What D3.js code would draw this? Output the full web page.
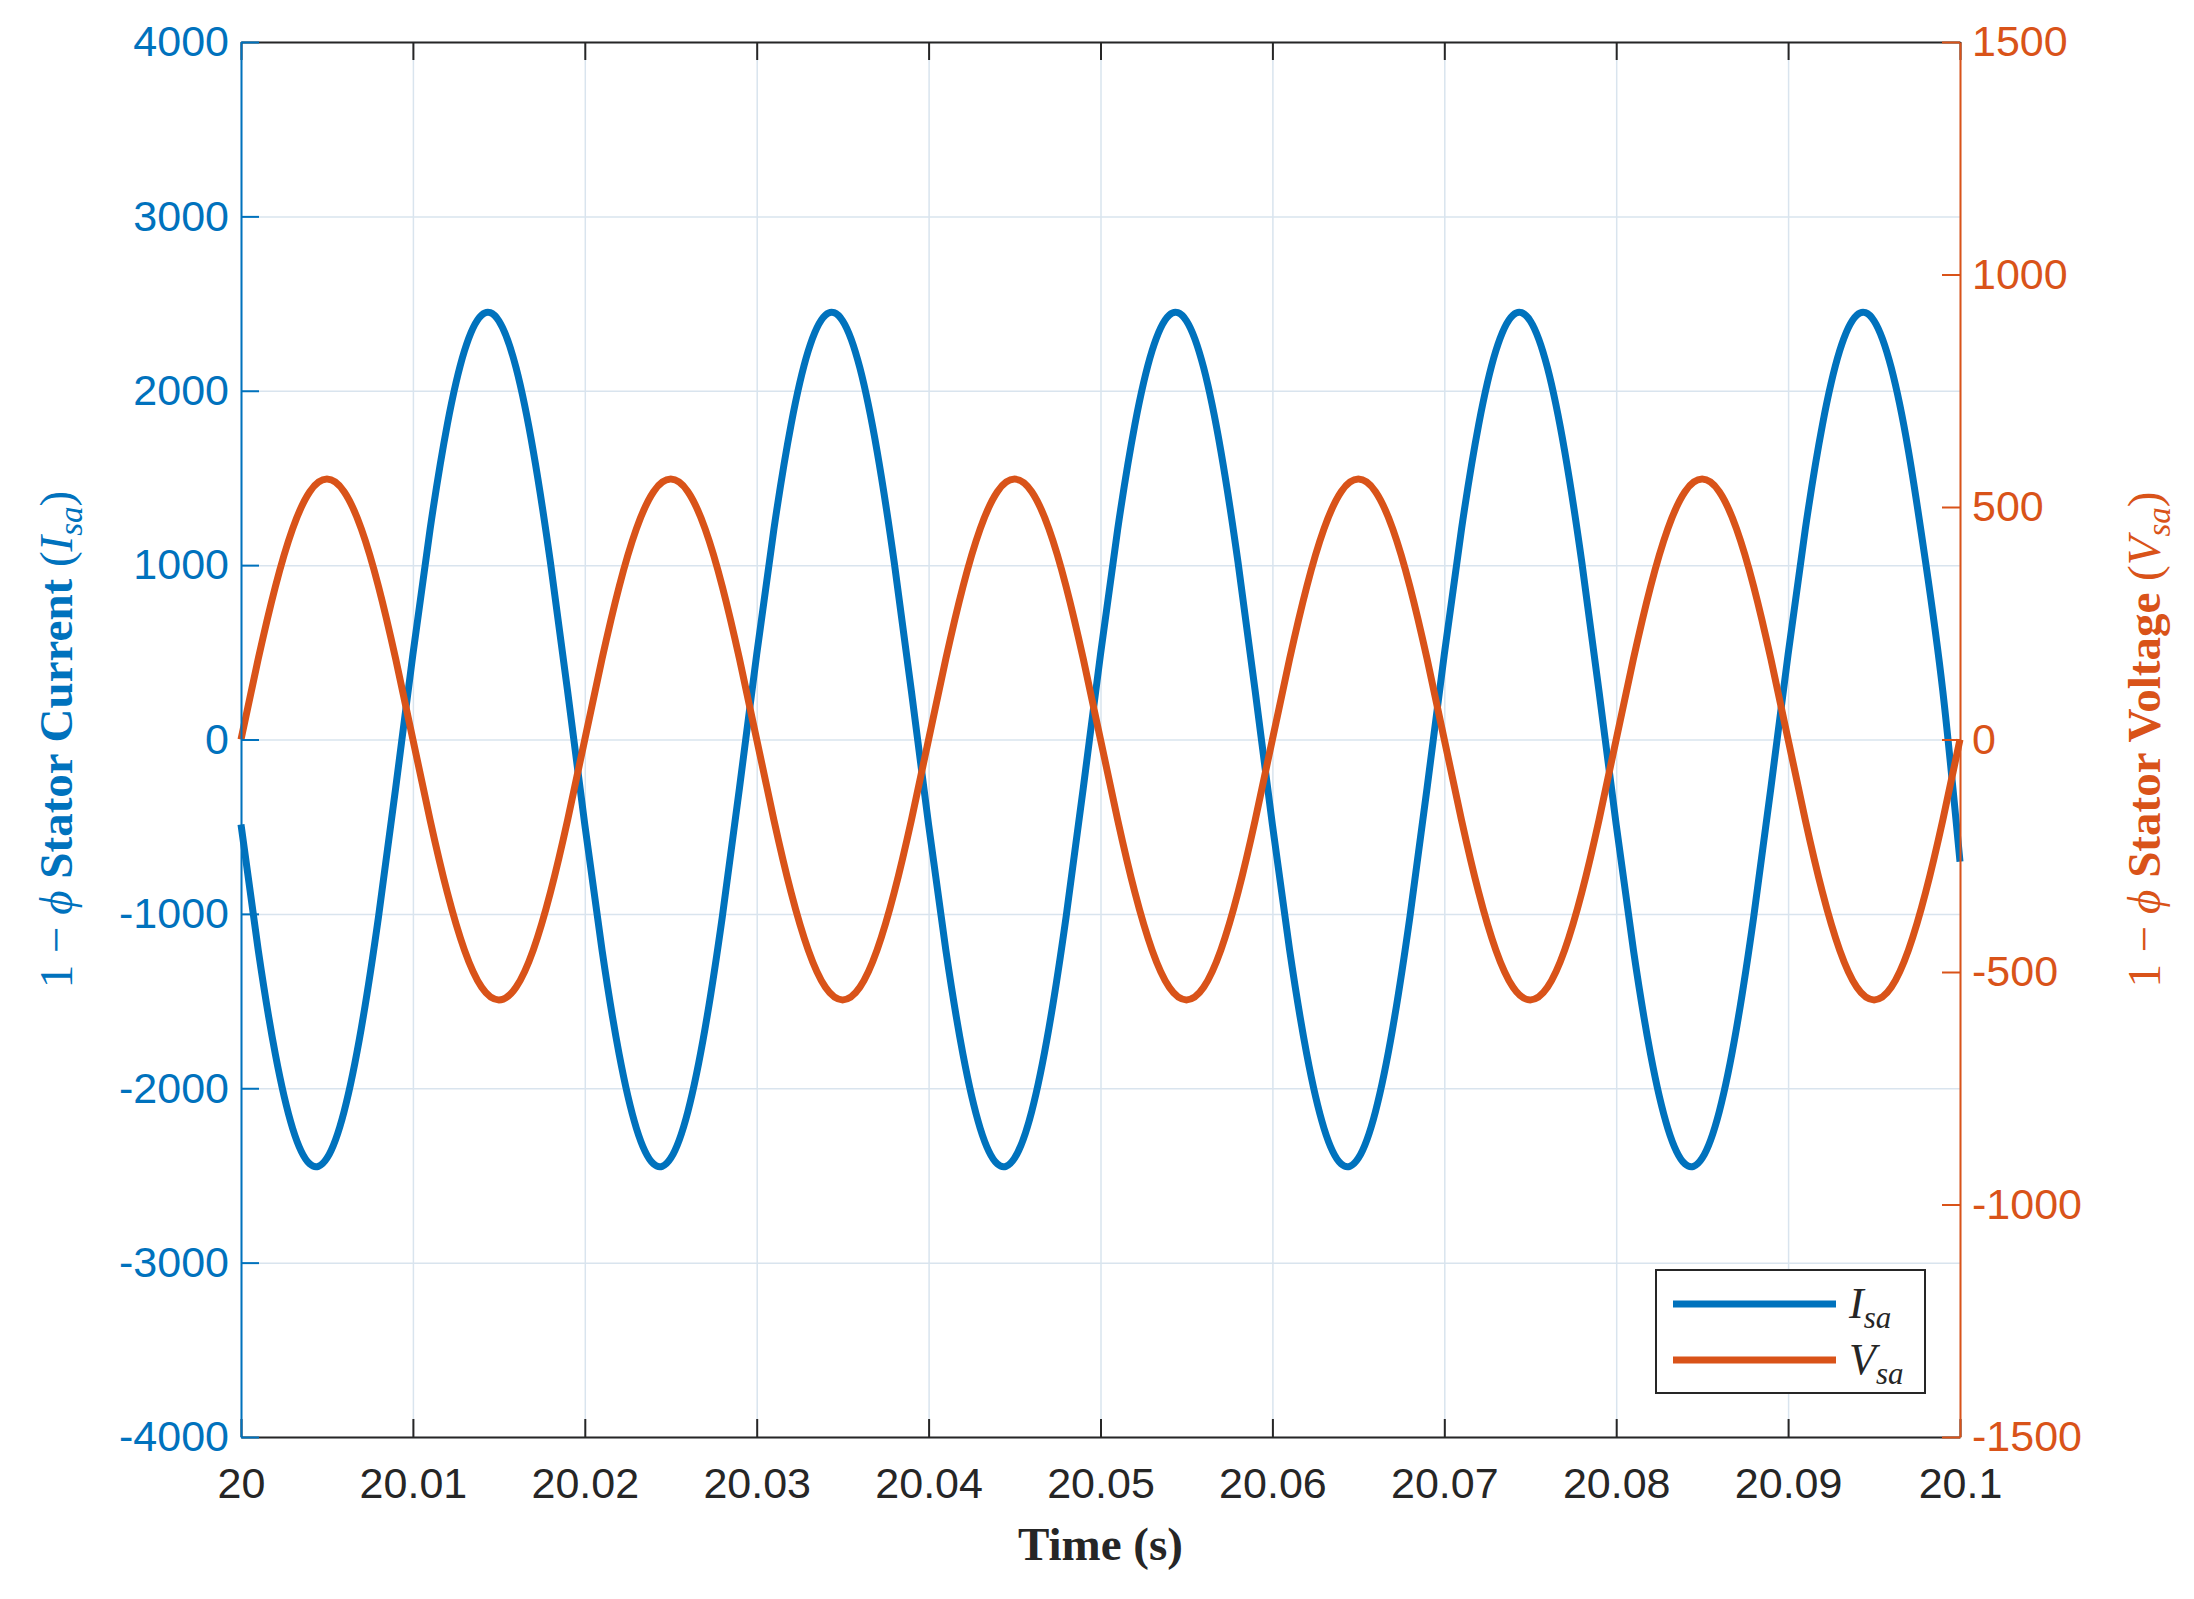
<!DOCTYPE html>
<html>
<head>
<meta charset="UTF-8">
<script src="https://d3js.org/d3.v7.min.js"></script>
<style>
  body { margin: 0; background: #fff; }
  text { font-family: "Liberation Sans", Arial, sans-serif; }
  .gridlines line { stroke: #d9e4ee; stroke-width: 1.5; }
  .gridlines .domain { stroke: none; }
  text.ytitle, text.serif { font-family: "Liberation Serif", "DejaVu Serif", serif; }
  .ytitle { font-size: 47px; }
</style>
</head>
<body>
<svg id="chart" width="2194" height="1599"></svg>
<script>
// time in ms after 20 s, 1 ms step (0..100)
const timeMs = d3.range(0, 101);
const currentIsa = [
  -488,-1206,-1806,-2229,-2434,-2401,-2132,-1655,-1016,-277,488,1206,1806,2229,2434,2401,2132,1655,1016,277,
  -488,-1206,-1806,-2229,-2434,-2401,-2132,-1655,-1016,-277,488,1206,1806,2229,2434,2401,2132,1655,1016,277,
  -488,-1206,-1806,-2229,-2434,-2401,-2132,-1655,-1016,-277,488,1206,1806,2229,2434,2401,2132,1655,1016,277,
  -488,-1206,-1806,-2229,-2434,-2401,-2132,-1655,-1016,-277,488,1206,1806,2229,2434,2401,2132,1655,1016,277,
  -488,-1206,-1806,-2229,-2434,-2401,-2132,-1655,-1016,-277,488,1206,1806,2229,2434,2401,2132,1655,1016,277,
  -700
];
const voltageVsa = [
  0,173,329,453,533,560,533,453,329,173,0,-173,-329,-453,-533,-560,-533,-453,-329,-173,
  0,173,329,453,533,560,533,453,329,173,0,-173,-329,-453,-533,-560,-533,-453,-329,-173,
  0,173,329,453,533,560,533,453,329,173,0,-173,-329,-453,-533,-560,-533,-453,-329,-173,
  0,173,329,453,533,560,533,453,329,173,0,-173,-329,-453,-533,-560,-533,-453,-329,-173,
  0,173,329,453,533,560,533,453,329,173,0,-173,-329,-453,-533,-560,-533,-453,-329,-173,
  0
];
const xTicks = [20, 20.01, 20.02, 20.03, 20.04, 20.05, 20.06, 20.07, 20.08, 20.09, 20.1];
const leftTicks = [-4000, -3000, -2000, -1000, 0, 1000, 2000, 3000, 4000];
const rightTicks = [-1500, -1000, -500, 0, 500, 1000, 1500];

const blue = "#0072BD", orange = "#D95319", dark = "#262626";
const svg = d3.select("svg#chart");
const margin = {left: 241, right: 234, top: 42, bottom: 162};
const w = 2194 - margin.left - margin.right;
const h = 1599 - margin.top - margin.bottom;

const x = d3.scaleLinear().domain([20, 20.1]).range([0, w]);
const yL = d3.scaleLinear().domain([-4000, 4000]).range([h, 0]);
const yR = d3.scaleLinear().domain([-1500, 1500]).range([h, 0]);

const g = svg.append("g").attr("transform", "translate(" + margin.left + "," + margin.top + ")");

g.append("g").attr("class", "gridlines")
  .call(d3.axisLeft(yL).tickValues(leftTicks).tickFormat("").tickSize(-w));
g.append("g").attr("class", "gridlines")
  .call(d3.axisBottom(x).tickValues(xTicks).tickFormat("").tickSize(h));

// lines
const lineI = d3.line().x((d, i) => x(20 + timeMs[i] / 1000)).y(d => yL(d)).curve(d3.curveNatural);
const lineV = d3.line().x((d, i) => x(20 + timeMs[i] / 1000)).y(d => yR(d)).curve(d3.curveNatural);
g.append("path").datum(currentIsa).attr("d", lineI).attr("fill", "none").attr("stroke", blue).attr("stroke-width", 7);
g.append("path").datum(voltageVsa).attr("d", lineV).attr("fill", "none").attr("stroke", orange).attr("stroke-width", 7);

// axes
function style(sel, color) {
  sel.selectAll("path").attr("stroke", color).attr("stroke-width", 2);
  sel.selectAll("line").attr("stroke", color).attr("stroke-width", 2);
  sel.selectAll("text").attr("fill", color).attr("font-size", 43);
}
const xb = g.append("g").attr("transform", "translate(0," + h + ")")
  .call(d3.axisBottom(x).tickValues(xTicks).tickFormat(d => +d.toFixed(2)).tickSizeInner(-18).tickSizeOuter(0).tickPadding(30));
style(xb, dark);
const xt = g.append("g").call(d3.axisTop(x).tickValues(xTicks).tickFormat("").tickSizeInner(-18).tickSizeOuter(0));
style(xt, dark);
const yl = g.append("g").call(d3.axisLeft(yL).tickValues(leftTicks).tickFormat(d => d).tickSizeInner(-18).tickSizeOuter(0).tickPadding(12));
style(yl, blue);
const yr = g.append("g").attr("transform", "translate(" + w + ",0)")
  .call(d3.axisRight(yR).tickValues(rightTicks).tickFormat(d => d).tickSizeInner(-18).tickSizeOuter(0).tickPadding(12));
style(yr, orange);

// axis titles
svg.append("text").attr("x", margin.left + w / 2).attr("y", 1560).attr("text-anchor", "middle")
  .attr("class", "ytitle").attr("font-weight", "bold").attr("fill", dark).text("Time (s)");

function yTitle(xPos, label, sym, color) {
  const t = svg.append("text").attr("class", "ytitle").attr("fill", color).attr("text-anchor", "middle")
    .attr("transform", "translate(" + xPos + "," + (margin.top + h / 2) + ") rotate(-90)");
  t.append("tspan").text("1 − ");
  t.append("tspan").attr("font-style", "italic").text("ϕ ");
  t.append("tspan").attr("font-weight", "bold").text(label + " ");
  t.append("tspan").text("(");
  t.append("tspan").attr("font-style", "italic").text(sym);
  t.append("tspan").attr("font-style", "italic").attr("font-size", 33).attr("dy", 10).text("sa");
  t.append("tspan").attr("dy", -10).text(")");
}
yTitle(72, "Stator Current", "I", blue);
yTitle(2160, "Stator Voltage", "V", orange);

// legend
const lg = svg.append("g").attr("transform", "translate(1656,1270)");
lg.append("rect").attr("width", 269).attr("height", 123).attr("fill", "#fff").attr("stroke", dark).attr("stroke-width", 2);
[["I", blue], ["V", orange]].forEach(([s, c], i) => {
  const yy = 34 + i * 56;
  lg.append("line").attr("x1", 17).attr("x2", 180).attr("y1", yy).attr("y2", yy).attr("stroke", c).attr("stroke-width", 7);
  const t = lg.append("text").attr("class", "serif").attr("x", 193).attr("y", yy + 14)
    .attr("font-style", "italic").attr("font-size", 44).attr("fill", dark);
  t.append("tspan").text(s);
  t.append("tspan").attr("font-size", 31).attr("dy", 10).text("sa");
});
</script>
</body>
</html>
